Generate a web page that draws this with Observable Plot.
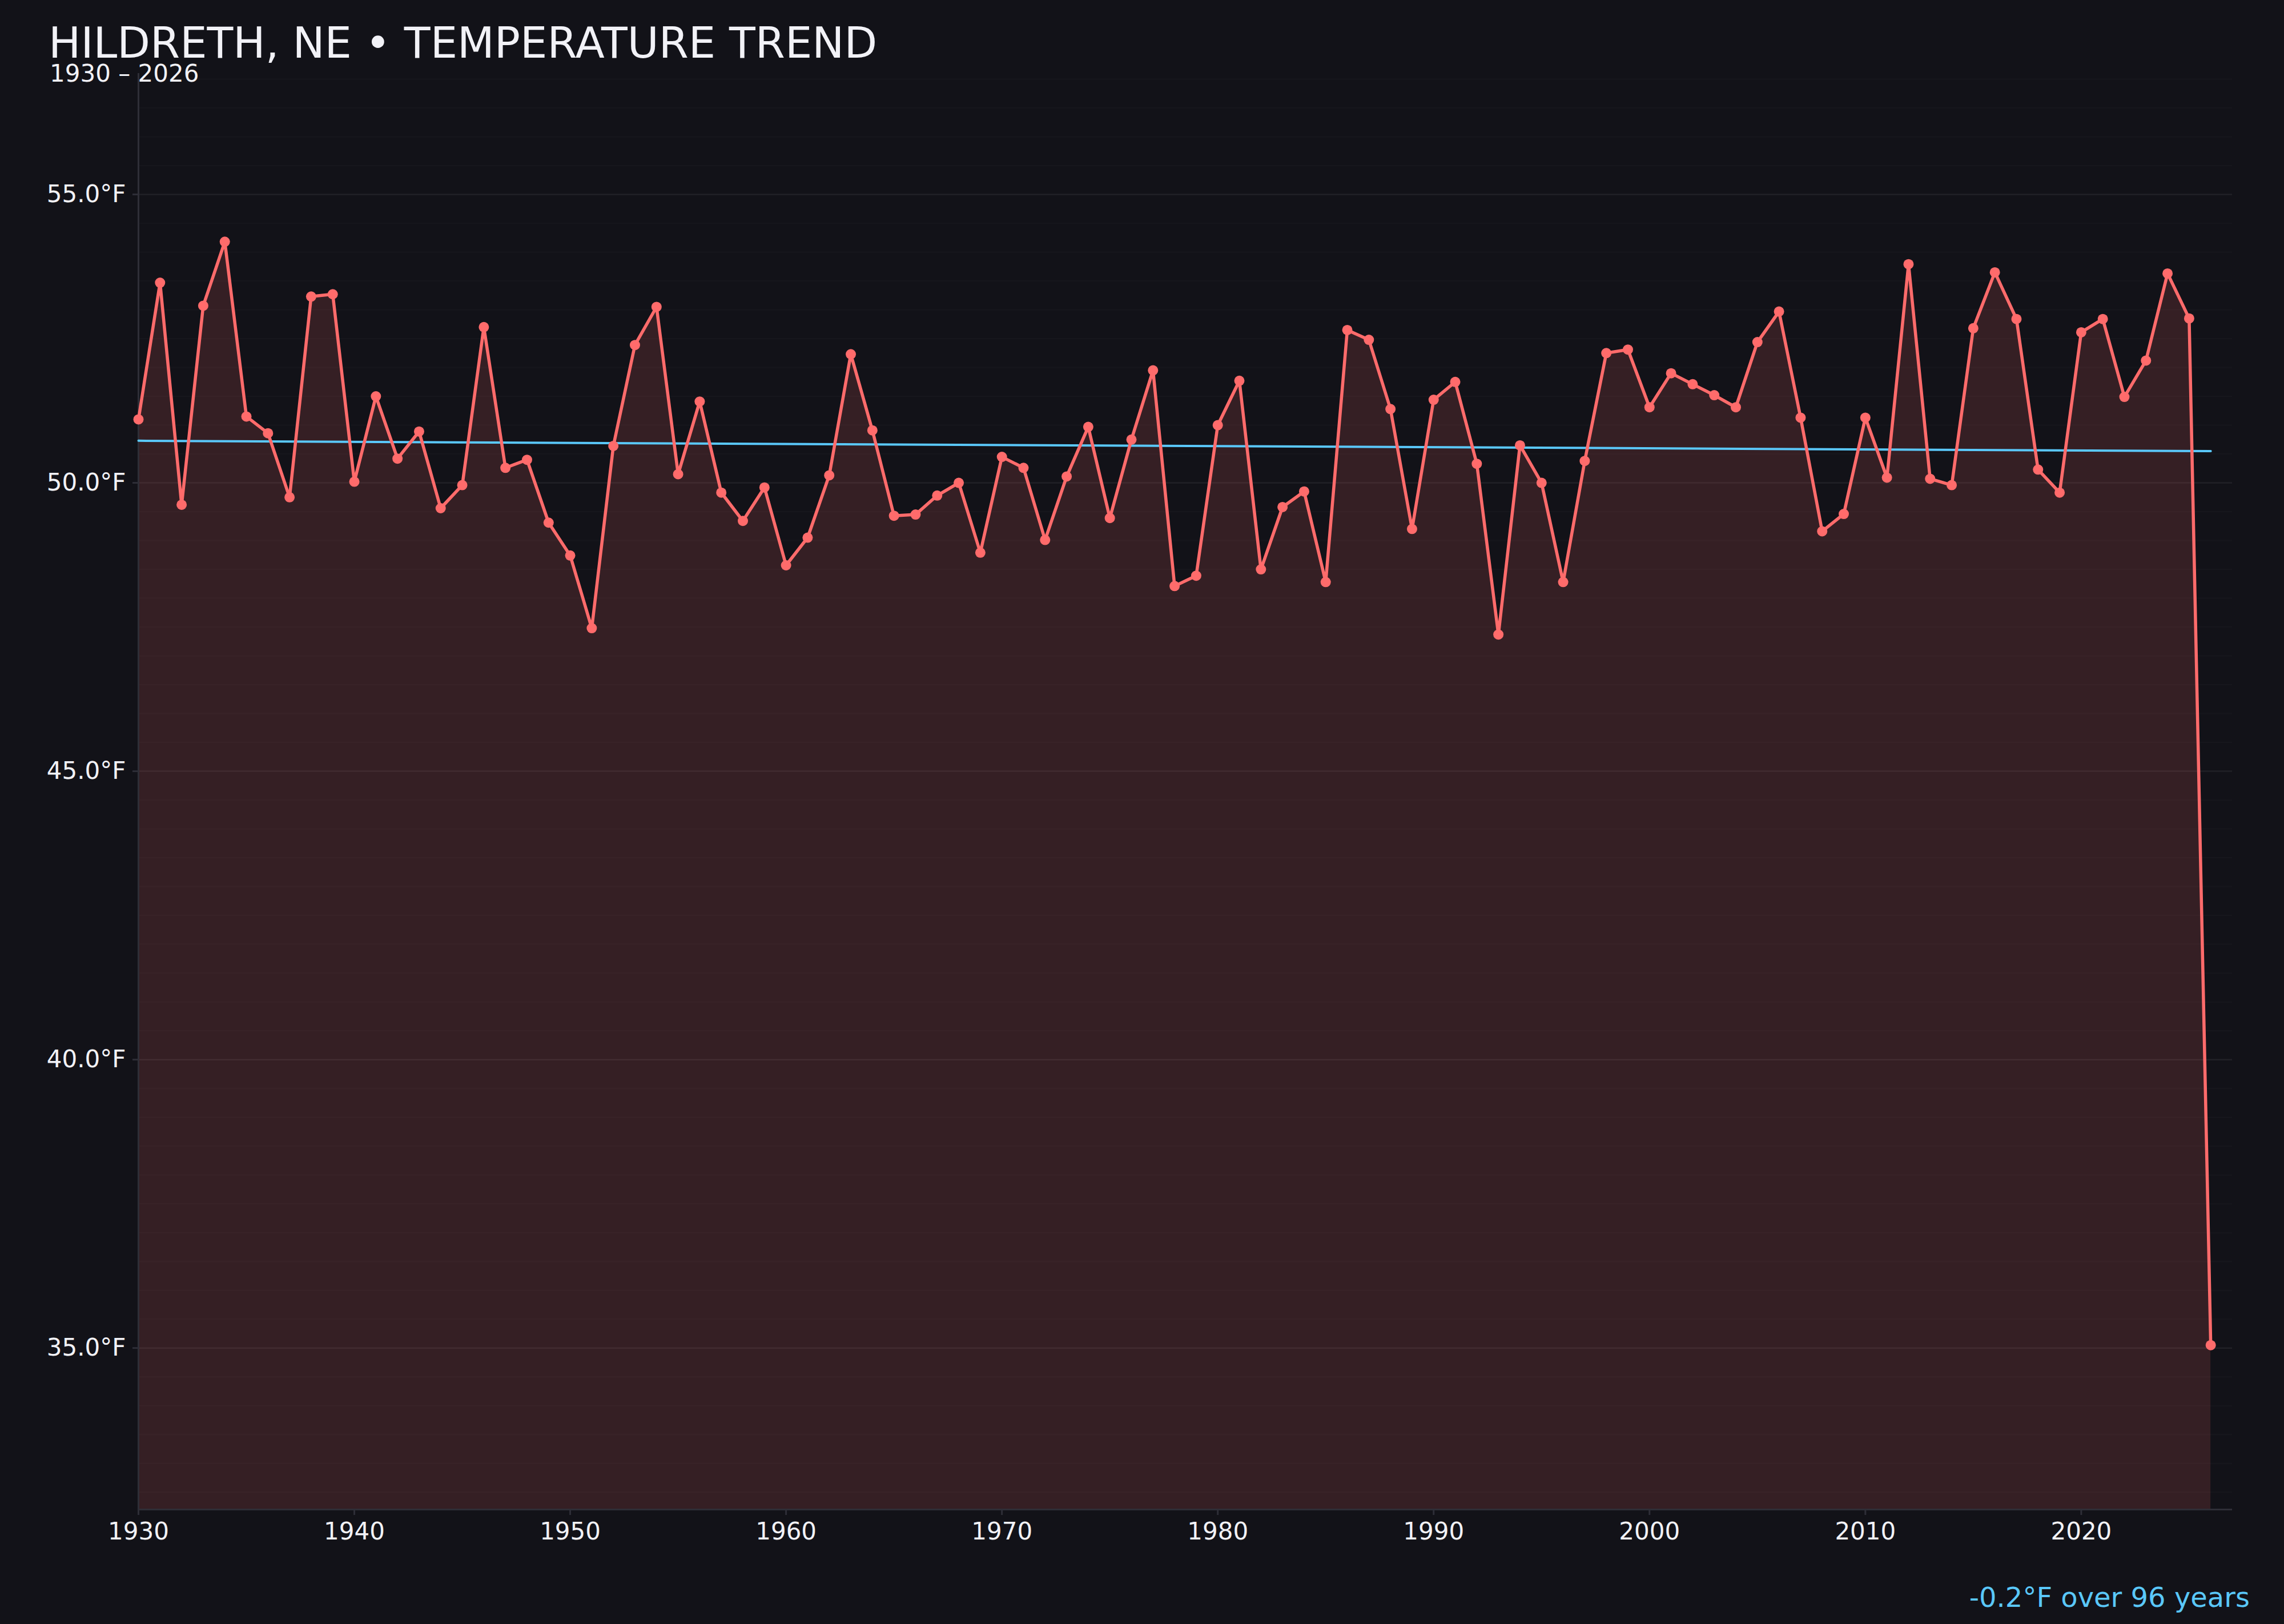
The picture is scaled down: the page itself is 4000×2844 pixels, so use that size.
<!DOCTYPE html>
<html>
<head>
<meta charset="utf-8">
<script src="https://cdn.jsdelivr.net/npm/d3@7"></script>
<script src="https://cdn.jsdelivr.net/npm/@observablehq/plot@0.6"></script>
<style>
  html, body { margin: 0; padding: 0; background: #121218; }
  #wrap { position: relative; width: 4000px; height: 2844px; overflow: hidden; font-family: "DejaVu Sans", sans-serif; }
  #chart { position: absolute; left: 0; top: 0; }
  .title { position: absolute; left: 85px; top: 38px; font-size: 75px; line-height: 1; color: #f2f2f7; white-space: nowrap; }
  .subtitle { position: absolute; left: 87px; top: 108px; font-size: 42px; line-height: 1; color: #f2f2f7; white-space: nowrap; }
  .caption { position: absolute; right: 60px; top: 2773px; font-size: 48px; line-height: 1; color: #5ac8fa; white-space: nowrap; }
</style>
</head>
<body>
<div id="wrap">
  <div id="chart"></div>
  <div class="title">HILDRETH, NE • TEMPERATURE TREND</div>
  <div class="subtitle">1930 – 2026</div>
  <div class="caption">-0.2°F over 96 years</div>
</div>
<script>
// ---- data ----
const years = d3.range(1930, 2027);
const temps = [
  51.10, 53.47, 49.62, 53.07, 54.18, 51.15, 50.86, 49.75, 53.23, 53.27,
  50.02, 51.50, 50.42, 50.89, 49.56, 49.96, 52.70, 50.26, 50.40, 49.31,
  48.74, 47.48, 50.64, 52.39, 53.05, 50.15, 51.41, 49.83, 49.34, 49.92,
  48.57, 49.05, 50.13, 52.23, 50.91, 49.43, 49.45, 49.78, 50.00, 48.79,
  50.45, 50.26, 49.01, 50.11, 50.97, 49.39, 50.75, 51.95, 48.21, 48.39,
  51.00, 51.77, 48.50, 49.58, 49.85, 48.28, 52.65, 52.48, 51.28, 49.20,
  51.44, 51.75, 50.33, 47.37, 50.65, 50.00, 48.28, 50.38, 52.25, 52.31,
  51.31, 51.90, 51.71, 51.52, 51.31, 52.44, 52.97, 51.13, 49.16, 49.46,
  51.13, 50.09, 53.79, 50.07, 49.96, 52.68, 53.65, 52.84, 50.23, 49.83,
  52.61, 52.84, 51.49, 52.12, 53.63, 52.85, 35.05
];
const trendYears = [1930, 2026];
const trendValues = [50.73, 50.55];
const xDomain = [1930, 2027];
const yDomain = [32.2, 57.0];
const xTicks = [1930, 1940, 1950, 1960, 1970, 1980, 1990, 2000, 2010, 2020];
const yTicks = [35, 40, 45, 50, 55];
const yMinorTicks = d3.range(32.5, 57.01, 0.5);

const data = years.map((y, i) => ({year: y, temp: temps[i]}));
const trend = trendYears.map((y, i) => ({year: y, temp: trendValues[i]}));

const lineColor = "#ff6b6b";
const trendColor = "#5ac8fa";
const axisColor = "#2e2e37";
const textColor = "#f2f2f7";

const chart = Plot.plot({
  width: 4000,
  height: 2844,
  marginLeft: 242,
  marginRight: 91,
  marginTop: 138,
  marginBottom: 201,
  style: {background: "transparent", color: textColor, fontFamily: "DejaVu Sans, sans-serif", fontSize: "42px"},
  x: {domain: xDomain, axis: null, label: null},
  y: {domain: yDomain, axis: null, label: null},
  marks: [
    Plot.gridY(yMinorTicks, {stroke: "#ffffff", strokeOpacity: 0.018, strokeWidth: 2.5}),
    Plot.gridY(yTicks, {stroke: "#ffffff", strokeOpacity: 0.05, strokeWidth: 2.5}),
    Plot.areaY(data, {x: "year", y1: yDomain[0], y2: "temp", fill: lineColor, fillOpacity: 0.15}),
    Plot.ruleX([xDomain[0]], {y1: yDomain[0], y2: 57.1, stroke: axisColor, strokeWidth: 3}),
    Plot.ruleY([yDomain[0]], {stroke: axisColor, strokeWidth: 3}),
    Plot.axisY({ticks: yTicks, tickSize: 10, tickFormat: () => "", color: axisColor, strokeWidth: 3, label: null}),
    Plot.axisY({ticks: yTicks, tickSize: 0, tickPadding: 22, tickFormat: d => d.toFixed(1) + "°F", color: textColor, fontSize: 42, label: null}),
    Plot.axisX({ticks: xTicks, tickSize: 10, tickFormat: () => "", color: axisColor, strokeWidth: 3, label: null}),
    Plot.axisX({ticks: xTicks, tickSize: 0, tickPadding: 23, tickFormat: d => String(d), color: textColor, fontSize: 42, label: null}),
    Plot.line(trend, {x: "year", y: "temp", stroke: trendColor, strokeWidth: 4}),
    Plot.line(data, {x: "year", y: "temp", stroke: lineColor, strokeWidth: 5.5}),
    Plot.dot(data, {x: "year", y: "temp", r: 9, fill: lineColor, stroke: "none"})
  ]
});
document.getElementById("chart").appendChild(chart);
</script>
</body>
</html>
